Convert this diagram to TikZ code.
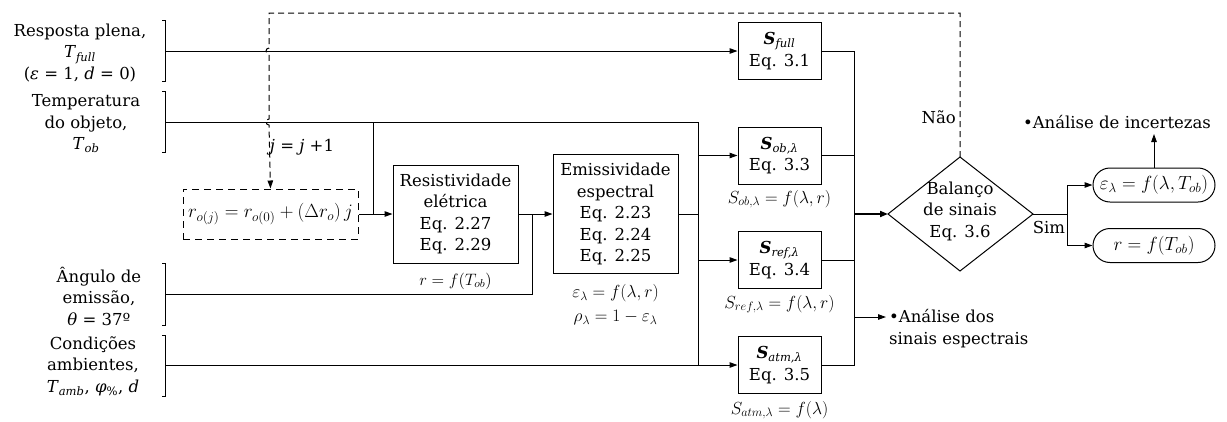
\RequirePackage{fix-cm}
\documentclass[tikz,border=0pt]{standalone}
\usepackage[no-math]{fontspec}
\setmainfont{DejaVu Serif}
\usetikzlibrary{arrows.meta}
\begin{document}
\begin{tikzpicture}[x=1pt,y=-1pt,
  font=\fontsize{16.5}{21.5}\selectfont,
  ln/.style={line width=1pt},
  arr/.style={line width=1pt,-{Triangle[length=8pt,width=5.5pt]}},
  blk/.style={draw,line width=1pt,inner sep=0pt,align=center},
  lbl/.style={align=center,inner sep=0pt},
  mth/.style={lbl,font=\fontsize{17.5}{21.5}\selectfont},
  dsh/.style={line width=1pt,dash pattern=on 6pt off 4pt},
  sbox/.style={blk,minimum width=83,minimum height=57},
  obox/.style={blk,minimum width=122,minimum height=34,rounded corners=17pt,font=\fontsize{19}{22}\selectfont}]
\useasboundingbox (0,0) rectangle (1227,421);

% left labels
\node[lbl] (l1) at (80,53) {Resposta plena,\\\textit{T}\textsubscript{\textit{full}}\\(\textit{ε} = 1, \textit{d} = 0)};
\node[lbl] (l2) at (86,124) {Temperatura\\do objeto,\\\textit{T}\textsubscript{\textit{ob}}};
\node[lbl] (l3) at (99,296) {Ângulo de\\emissão,\\\textit{θ} = 37º};
\node[lbl] (l4) at (93,366) {Condições\\ambientes,\\\textit{T}\textsubscript{\textit{amb}}, \textit{φ}\textsubscript{\%}, \textit{d}};

% brackets
\draw[ln] (162,20) -- (165,20) -- (165,81) -- (162,81);
\draw[ln] (162,91) -- (165,91) -- (165,152) -- (162,152);
\draw[ln] (162,263) -- (165,263) -- (165,325) -- (162,325);
\draw[ln] (162,335) -- (165,335) -- (165,396) -- (162,396);
\coordinate (b1) at (165,51);
\coordinate (b2) at (165,122);
\coordinate (b3) at (165,294);
\coordinate (b4) at (165,365);
\coordinate (bus) at (698,122);
\coordinate (col) at (854,51);

% blocks
\node[blk,dash pattern=on 7pt off 5pt,minimum width=175,minimum height=50,font=\fontsize{19}{22}\selectfont] (rbox) at (270.5,214)
  {$r_{o(j)} = r_{o(0)} + (\Delta r_o)\, j$};
\node[blk,minimum width=125,minimum height=98] (res) at (455.5,214)
  {Resistividade\\elétrica\\Eq. 2.27\\Eq. 2.29};
\node[blk,minimum width=125,minimum height=119] (emi) at (615.5,214)
  {Emissividade\\espectral\\Eq. 2.23\\Eq. 2.24\\Eq. 2.25};
\node[sbox] (sfull) at (779.5,51) {\textbf{\textit{S}}\textsubscript{\textit{full}}\\Eq. 3.1};
\node[sbox] (sob) at (779.5,155.5) {\textbf{\textit{S}}\textsubscript{\textit{ob,λ}}\\Eq. 3.3};
\node[sbox] (sref) at (779.5,260) {\textbf{\textit{S}}\textsubscript{\textit{ref,λ}}\\Eq. 3.4};
\node[sbox] (satm) at (779.5,365) {\textbf{\textit{S}}\textsubscript{\textit{atm,λ}}\\Eq. 3.5};

% text under blocks
\node[lbl] (fr) at (455.5,281) {$r = f(T_{ob})$};
\node[mth] (fe) at (615.5,293) {$\varepsilon_\lambda = f(\lambda, r)$};
\node[mth] (fp) at (615.5,318) {$\rho_\lambda = 1 - \varepsilon_\lambda$};
\node[mth] (fso) at (779.5,199) {$S_{ob,\lambda} = f(\lambda, r)$};
\node[mth] (fsr) at (779.5,304) {$S_{ref,\lambda} = f(\lambda, r)$};
\node[mth] (fsa) at (779.5,410) {$S_{atm,\lambda} = f(\lambda)$};
\node[lbl] (jj) at (302,147) {\textit{j} = \textit{j} +1};

% decision diamond
\coordinate (dl) at (888,214);
\coordinate (dt) at (960,157);
\coordinate (dr) at (1033,214);
\coordinate (db) at (960,271);
\draw[ln] (dl) -- (dt) -- (dr) -- (db) -- cycle;
\node[lbl] (bal) at (960,211) {Balanço\\de sinais\\Eq. 3.6};
\node[lbl,anchor=east] (nao) at (956,117) {Não};
\node[lbl] (sim) at (1049,227) {Sim};

% outputs
\node[obox] (o1) at (1154,185) {$\varepsilon_\lambda = f(\lambda, T_{ob})$};
\node[obox] (o2) at (1154,245.5) {$r = f(T_{ob})$};
\node[lbl] (ai) at (1117,122) {•Análise de incertezas};
\node[lbl,align=left,anchor=west] (ad) at (889,328.5) {•Análise dos\\sinais espectrais};
\coordinate (a1) at (1154,134);
\coordinate (a2) at (886,317);

% connectors
\draw[arr] (b1) -- (sfull.west);
\draw[ln] (b2) -- (bus) -- (bus |- satm.west);
\draw[arr] (bus |- sob.west) -- (sob.west);
\draw[arr] (bus |- sref.west) -- (sref.west);
\draw[arr] (b4) -- (satm.west);
\draw[ln] (373,122) -- (373,214);
\draw[arr] (rbox.east) -- (res.west);
\draw[ln] (b3) -- (532,294) -- (532,214);
\draw[arr] (res.east) -- (emi.west);
\draw[ln] (emi.east) -- (bus |- emi.east);
\draw[ln] (sfull.east) -- (col) -- (col |- satm.east) -- (satm.east);
\draw[ln] (sob.east) -- (sob.east -| col);
\draw[ln] (sref.east) -- (sref.east -| col);
\draw[line width=1.8pt,-{Triangle[length=8pt,width=6pt]}] (col |- dl) -- (dl);
\draw[arr] (col |- a2) -- (a2);
\draw[ln] (dr) -- (1067,214);
\draw[arr] (1067,214) |- (o1.west);
\draw[arr] (1067,214) |- (o2.west);
\draw[arr] (o1.north) -- (a1);

% feedback loop
\draw[dsh,-{Triangle[length=8pt,width=5.5pt]}] (dt) -- (960,13) -- (269,13) -- (269,48)
  arc[start angle=270,end angle=90,radius=3] -- (269,119)
  arc[start angle=270,end angle=90,radius=3] -- (rbox.north);
\end{tikzpicture}
\end{document}
